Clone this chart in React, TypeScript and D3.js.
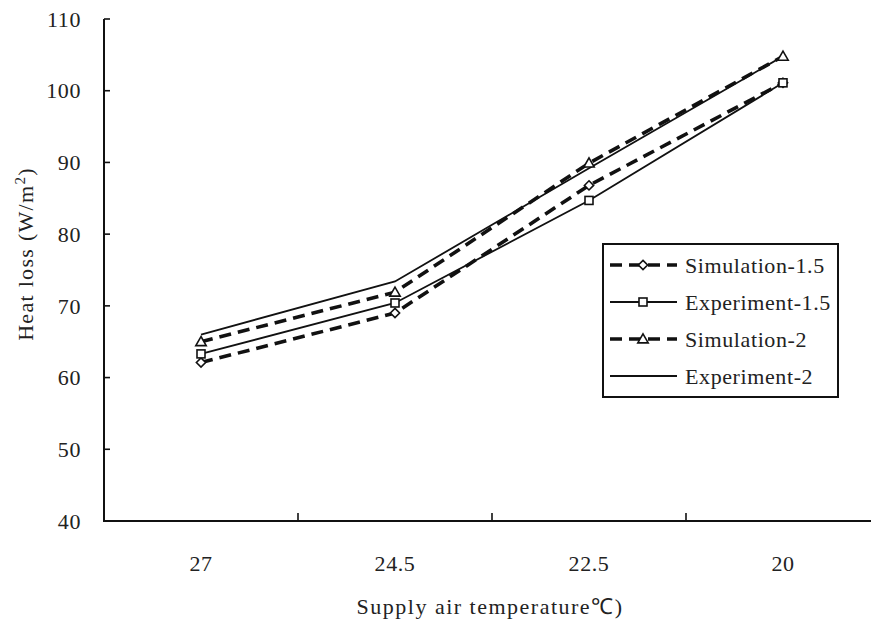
import React from "react";
import * as d3 from "d3";

// Supply air temperature categories (°C) and heat loss series (W/m²)
const categories = ["27", "24.5", "22.5", "20"];
const simulation15 = [62.1, 69.0, 86.8, 101.1];
const experiment15 = [63.3, 70.4, 84.7, 101.1];
const simulation2 = [65.0, 71.9, 89.9, 104.8];
const experiment2 = [66.0, 73.4, 89.2, 104.8];
const yTicks = [40, 50, 60, 70, 80, 90, 100, 110];

type Marker = "diamond" | "square" | "triangle" | "none";
interface Series {
  name: string;
  values: number[];
  dashed: boolean;
  marker: Marker;
}

const seriesList: Series[] = [
  { name: "Simulation-1.5", values: simulation15, dashed: true, marker: "diamond" },
  { name: "Experiment-1.5", values: experiment15, dashed: false, marker: "square" },
  { name: "Simulation-2", values: simulation2, dashed: true, marker: "triangle" },
  { name: "Experiment-2", values: experiment2, dashed: false, marker: "none" },
];

const W = 871;
const H = 628;
const left = 104;
const right = 880;
const top = 19;
const bottom = 521;
const font = "'Liberation Serif', 'Times New Roman', serif";

function MarkerShape({ kind, x, y }: { kind: Marker; x: number; y: number }) {
  if (kind === "none") return null;
  const common = { fill: "#fff", stroke: "#111", strokeWidth: 1.6 };
  if (kind === "diamond") {
    const r = 4.6;
    return <path d={`M${x},${y - r}L${x + r},${y}L${x},${y + r}L${x - r},${y}Z`} {...common} />;
  }
  if (kind === "square") {
    const s = 8;
    return <rect x={x - s / 2} y={y - s / 2} width={s} height={s} {...common} />;
  }
  const r = 5.2;
  return <path d={`M${x},${y - r}L${x + r},${y + r * 0.75}L${x - r},${y + r * 0.75}Z`} {...common} />;
}

export default function App() {
  const x = d3.scaleBand<string>().domain(categories).range([left, right]).padding(0);
  const y = d3.scaleLinear().domain([40, 110]).range([bottom, top]);
  const cx = (c: string) => (x(c) ?? 0) + x.bandwidth() / 2;

  const line = d3
    .line<number>()
    .x((_, i) => cx(categories[i]))
    .y((v) => y(v));

  const boundaries = categories.slice(1).map((c) => x(c) ?? 0);

  const legendX = 603;
  const legendY = 244;
  const legendRows = [265, 302, 339, 376];

  return (
    <svg
      width={W}
      height={H}
      style={{ position: "absolute", left: 0, top: 0, background: "#fff" }}
      fontFamily={font}
    >
      <rect width={W} height={H} fill="#fff" />

      {/* axes */}
      <line x1={left} x2={left} y1={top} y2={bottom} stroke="#111" strokeWidth={2} />
      <line x1={left - 1} x2={W} y1={bottom} y2={bottom} stroke="#111" strokeWidth={2} />
      {yTicks.map((t) => (
        <g key={t}>
          <line x1={left} x2={left + 6} y1={y(t)} y2={y(t)} stroke="#111" strokeWidth={1.6} />
          <text
            x={81}
            y={y(t)}
            dy="0.35em"
            textAnchor="end"
            fontSize={22}
            letterSpacing={0.6}
            fill="#222"
          >
            {t}
          </text>
        </g>
      ))}
      {boundaries.map((b, i) => (
        <line key={i} x1={b} x2={b} y1={bottom} y2={bottom - 8} stroke="#111" strokeWidth={1.6} />
      ))}
      {categories.map((c) => (
        <text
          key={c}
          x={cx(c)}
          y={571}
          textAnchor="middle"
          fontSize={22}
          letterSpacing={0.6}
          fill="#222"
        >
          {c}
        </text>
      ))}

      {/* axis titles */}
      <text x={490} y={614} textAnchor="middle" fontSize={22} letterSpacing={1.5} fill="#222">
        Supply air temperature℃)
      </text>
      <text
        transform="translate(33,254) rotate(-90)"
        textAnchor="middle"
        fontSize={22}
        letterSpacing={1.3}
        fill="#222"
      >
        Heat loss (W/m
        <tspan dy={-8} fontSize={15}>
          2
        </tspan>
        <tspan dy={8}>)</tspan>
      </text>

      {/* series lines */}
      {seriesList.map((s) => (
        <path
          key={s.name}
          d={line(s.values) ?? ""}
          fill="none"
          stroke="#111"
          strokeWidth={s.dashed ? 3.6 : 1.8}
          strokeDasharray={s.dashed ? "12,7" : undefined}
        />
      ))}
      {seriesList.map((s) =>
        s.values.map((v, i) => (
          <MarkerShape key={s.name + i} kind={s.marker} x={cx(categories[i])} y={y(v)} />
        ))
      )}

      {/* legend */}
      <rect
        x={legendX}
        y={legendY}
        width={235}
        height={153}
        fill="#fff"
        stroke="#111"
        strokeWidth={2}
      />
      {seriesList.map((s, i) => (
        <g key={s.name}>
          <line
            x1={610}
            x2={677}
            y1={legendRows[i]}
            y2={legendRows[i]}
            stroke="#111"
            strokeWidth={s.dashed ? 3.6 : 1.8}
            strokeDasharray={s.dashed ? "12,7" : undefined}
          />
          <MarkerShape kind={s.marker} x={643} y={legendRows[i]} />
          <text x={685} y={legendRows[i]} dy="0.35em" fontSize={22} letterSpacing={0.6} fill="#222">
            {s.name}
          </text>
        </g>
      ))}
    </svg>
  );
}
